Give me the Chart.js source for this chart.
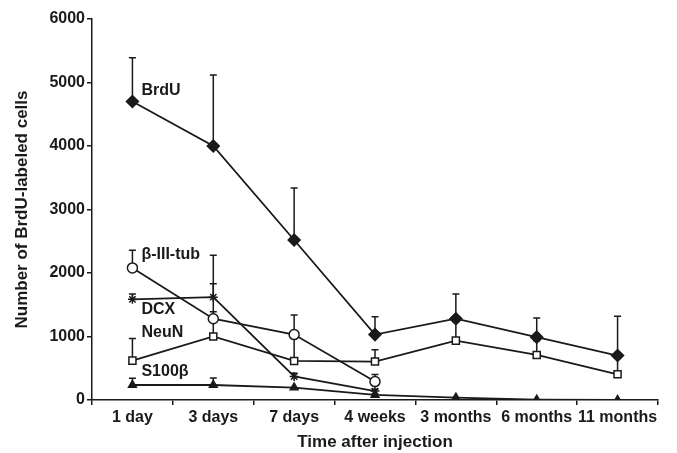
<!DOCTYPE html>
<html>
<head>
<meta charset="utf-8">
<script src="https://cdn.jsdelivr.net/npm/chart.js@4/dist/chart.umd.min.js"></script>
<style>
  html, body { margin: 0; padding: 0; background: #fff; }
  canvas { display: block; }
</style>
</head>
<body>
<canvas id="c" width="677" height="453" style="width:677px;height:453px"></canvas>
<script>
// ---- data ----
const categories = ['1 day', '3 days', '7 days', '4 weeks', '3 months', '6 months', '11 months'];
const brduMean   = [4700, 4000, 2520, 1030, 1280, 990, 700];
const brduErr    = [690, 1120, 820, 280, 390, 300, 620];
const tubMean    = [2080, 1280, 1030, 290, null, null, null];
const tubErr     = [280, 1000, 310, 110, null, null, null];
const dcxMean    = [1585, 1620, 370, 140, null, null, null];
const dcxErr     = [85, 210, 50, 30, null, null, null];
const neunMean   = [620, 1000, 615, 605, 935, 710, 405];
const neunErr    = [350, 390, 390, 185, 300, 225, 260];
const s100Mean   = [236, 236, 195, 80, 37, 5, 0];
const s100Err    = [105, 110, 0, 0, 0, 0, 0];
const yTicks     = [0, 1000, 2000, 3000, 4000, 5000, 6000];
const seriesLabels = ['BrdU', 'β-III-tub', 'DCX', 'NeuN', 'S100β'];
const labelAnchorValues = [4870, 2283, 1417, 1055, 441];

const INK = '#1a1a1a';
const FONT = "'Liberation Sans', Arial, sans-serif";

function ds(label, data, err, style, bg, radius) {
  return {
    label, data, errTop: err,
    borderColor: INK, borderWidth: 1.8,
    pointStyle: style, pointRadius: radius, pointHoverRadius: radius,
    pointBackgroundColor: bg, pointBorderColor: INK, pointBorderWidth: 1.5,
    spanGaps: false, tension: 0, fill: false
  };
}

const errorBars = {
  id: 'errorBars',
  beforeDatasetsDraw(chart) {
    const {ctx} = chart;
    const xs = chart.scales.x, ys = chart.scales.y;
    ctx.save();
    ctx.strokeStyle = INK;
    ctx.lineWidth = 1.5;
    chart.data.datasets.forEach(d => {
      d.data.forEach((v, i) => {
        const e = d.errTop[i];
        if (v == null || !e) return;
        const x = xs.getPixelForValue(i);
        const y0 = ys.getPixelForValue(v);
        const y1 = ys.getPixelForValue(v + e);
        ctx.beginPath();
        ctx.moveTo(x, y0); ctx.lineTo(x, y1);
        ctx.moveTo(x - 3.5, y1); ctx.lineTo(x + 3.5, y1);
        ctx.stroke();
      });
    });
    ctx.restore();
  }
};

const seriesNames = {
  id: 'seriesNames',
  afterDatasetsDraw(chart) {
    const {ctx} = chart;
    const xs = chart.scales.x, ys = chart.scales.y;
    ctx.save();
    ctx.fillStyle = INK;
    ctx.font = 'bold 16px ' + FONT;
    ctx.textAlign = 'left';
    ctx.textBaseline = 'middle';
    seriesLabels.forEach((t, k) => {
      const x = xs.getPixelForValue(0) + 9;
      const y = ys.getPixelForValue(labelAnchorValues[k]);
      ctx.fillText(t, x, y);
    });
    ctx.restore();
  }
};

new Chart(document.getElementById('c'), {
  type: 'line',
  data: {
    labels: categories,
    datasets: [
      ds('BrdU', brduMean, brduErr, 'rectRot', INK, 6),
      ds('β-III-tub', tubMean, tubErr, 'circle', '#fff', 5),
      ds('DCX', dcxMean, dcxErr, 'star', INK, 4.5),
      ds('NeuN', neunMean, neunErr, 'rect', '#fff', 5),
      ds('S100β', s100Mean, s100Err, 'triangle', INK, 4.5)
    ]
  },
  options: {
    responsive: false,
    animation: false,
    events: [],
    layout: { padding: { top: 19, right: 19, left: 0, bottom: 0 } },
    plugins: { legend: { display: false }, tooltip: { enabled: false } },
    scales: {
      x: {
        offset: true,
        grid: { drawOnChartArea: false, drawTicks: true, tickLength: 5, color: INK, lineWidth: 1.5, offset: true },
        border: { display: true, color: INK, width: 1.5 },
        ticks: { color: INK, font: { family: FONT, size: 16, weight: 'bold' }, padding: 3, maxRotation: 0, autoSkip: false },
        title: { display: true, text: 'Time after injection', color: INK, font: { family: FONT, size: 17, weight: 'bold' }, padding: { top: 0, bottom: 0 } },
        afterFit(s) { s.height = 53; }
      },
      y: {
        min: 0, max: 6000,
        afterBuildTicks(s) { s.ticks = yTicks.map(v => ({ value: v })); },
        grid: { drawOnChartArea: false, drawTicks: true, tickLength: 5, color: INK, lineWidth: 1.5 },
        border: { display: true, color: INK, width: 1.5 },
        ticks: { color: INK, font: { family: FONT, size: 16, weight: 'bold' }, padding: 2, callback: v => String(v) },
        title: { display: true, text: 'Number of BrdU-labeled cells', color: INK, font: { family: FONT, size: 17, weight: 'bold' }, padding: { top: 12, bottom: 0 } },
        afterFit(s) { s.width = 92; }
      }
    }
  },
  plugins: [errorBars, seriesNames]
});
</script>
</body>
</html>
